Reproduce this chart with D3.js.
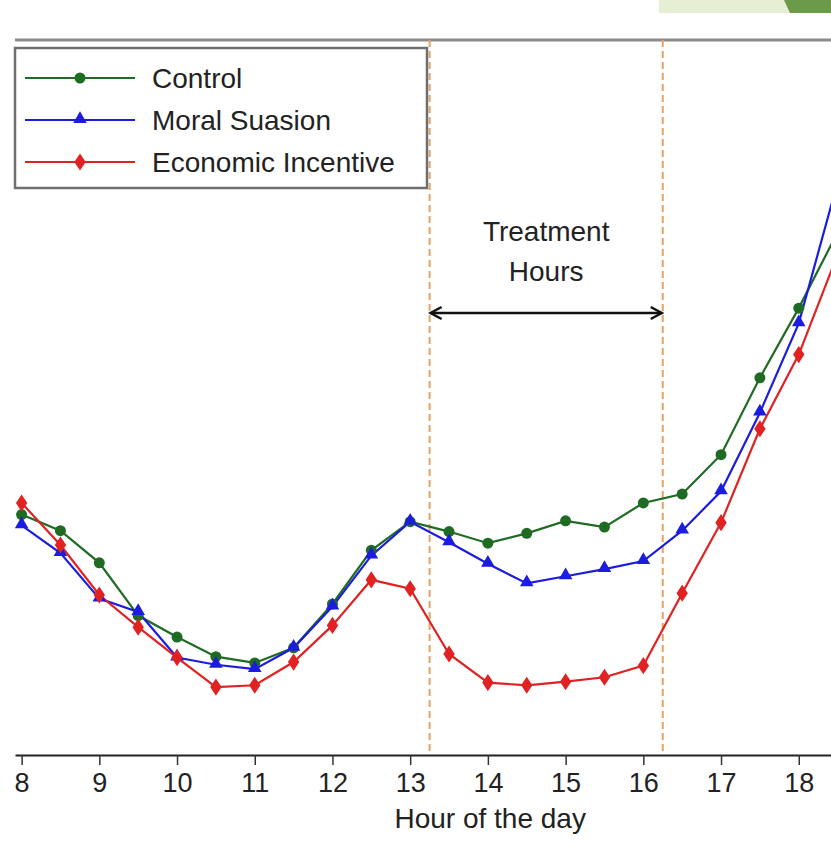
<!DOCTYPE html>
<html>
<head>
<meta charset="utf-8">
<script src="https://cdn.jsdelivr.net/npm/d3@7"></script>
<style>
  body { margin: 0; background: #fff; }
  svg { display: block; font-family: "Liberation Sans", Arial, sans-serif; }
</style>
</head>
<body>
<script>
// hours on the x axis (half-hour steps)
const hours = [8, 8.5, 9, 9.5, 10, 10.5, 11, 11.5, 12, 12.5, 13, 13.5, 14, 14.5, 15, 15.5, 16, 16.5, 17, 17.5, 18, 18.5];

// series values
const control = [0.469, 0.451, 0.415, 0.356, 0.332, 0.310, 0.303, 0.320, 0.369, 0.429, 0.461, 0.450, 0.437, 0.448, 0.462, 0.455, 0.482, 0.492, 0.536, 0.622, 0.700, 0.785];
const moralSuasion = [0.457, 0.426, 0.375, 0.360, 0.309, 0.301, 0.296, 0.320, 0.366, 0.423, 0.461, 0.438, 0.414, 0.392, 0.400, 0.408, 0.417, 0.451, 0.495, 0.583, 0.683, 0.841];
const economicIncentive = [0.482, 0.435, 0.379, 0.343, 0.309, 0.276, 0.278, 0.304, 0.345, 0.396, 0.386, 0.313, 0.281, 0.278, 0.282, 0.287, 0.300, 0.381, 0.460, 0.565, 0.648, 0.760];

const seriesNames = ['Control', 'Moral Suasion', 'Economic Incentive'];
const tickHours = [8, 9, 10, 11, 12, 13, 14, 15, 16, 17, 18];
const treatmentBounds = [13.25, 16.25];
const treatmentLabel = ['Treatment', 'Hours'];
const xTitle = 'Hour of the day';

function drawMarker(g, type, cx, cy, color) {
    if (type === 'circle') {
        g.append('circle')
            .attr('cx', cx).attr('cy', cy).attr('r', 5.5)
            .attr('fill', color);
    } else {
        const sym = type === 'triangle' ? d3.symbolTriangle : d3.symbolDiamond;
        const size = type === 'triangle' ? 80 : 85;
        g.append('path')
            .attr('d', d3.symbol().type(sym).size(size)())
            .attr('transform', type === 'diamond'
                ? `translate(${cx},${cy}) scale(1.15,1)`
                : `translate(${cx},${cy - 1})`)
            .attr('fill', color);
    }
}

function renderSVG() {
    // ==================================================
    // 1. 기본 설정
    // ==================================================
    const width = 831;
    const height = 867;
    const plot = { left: 15, right: 831, top: 40, bottom: 755 };
    const fontSize = 28;

    const svg = d3.select('body')
        .append('svg')
        .attr('width', width)
        .attr('height', height);

    // ==================================================
    // 2. 스케일
    // ==================================================
    const x = d3.scaleLinear()
        .domain([7.915, 18.415])
        .range([plot.left, plot.right]);

    const y = d3.scaleLinear()
        .domain([0.2, 1.0])
        .range([plot.bottom, plot.top]);

    svg.append('defs').append('clipPath')
        .attr('id', 'plot-clip')
        .append('rect')
        .attr('x', plot.left - 8)
        .attr('y', plot.top)
        .attr('width', plot.right - plot.left + 8)
        .attr('height', plot.bottom - plot.top);

    // 상단 장식 (잘린 배너)
    svg.append('rect')
        .attr('x', 659).attr('y', 0)
        .attr('width', 131).attr('height', 13)
        .attr('fill', '#e4efd4');
    svg.append('path')
        .attr('d', 'M784,0 L831,0 L831,13 L790,13 Z')
        .attr('fill', '#6c9a4b');

    // ==================================================
    // 3. 프레임 / 축
    // ==================================================
    svg.append('line')
        .attr('x1', plot.left).attr('x2', plot.right)
        .attr('y1', plot.top).attr('y2', plot.top)
        .attr('stroke', '#8a8a8a')
        .attr('stroke-width', 3);

    // 처리 시간 점선
    svg.selectAll('line.treat')
        .data(treatmentBounds)
        .enter()
        .append('line')
        .attr('class', 'treat')
        .attr('x1', d => x(d)).attr('x2', d => x(d))
        .attr('y1', plot.top).attr('y2', plot.bottom)
        .attr('stroke', '#e2a466')
        .attr('stroke-width', 2)
        .attr('stroke-dasharray', '7,4');

    const xAxis = d3.axisBottom(x)
        .tickValues(tickHours)
        .tickSizeInner(10)
        .tickSizeOuter(0)
        .tickPadding(8)
        .tickFormat(d3.format('d'));

    const axisG = svg.append('g')
        .attr('transform', `translate(0, ${plot.bottom})`)
        .call(xAxis);
    axisG.select('.domain')
        .attr('stroke', '#222')
        .attr('stroke-width', 2);
    axisG.selectAll('.tick line')
        .attr('stroke', '#333')
        .attr('stroke-width', 1.5);
    axisG.selectAll('.tick text')
        .attr('font-size', 27)
        .attr('font-family', '"Liberation Sans", Arial, sans-serif')
        .attr('fill', '#222');

    svg.append('text')
        .attr('x', x(14.03))
        .attr('y', 828)
        .attr('text-anchor', 'middle')
        .attr('font-size', fontSize)
        .attr('fill', '#222')
        .text(xTitle);

    // ==================================================
    // 4. 시리즈
    // ==================================================
    const series = [
        { name: seriesNames[0], values: control, color: '#1f6b24', marker: 'circle' },
        { name: seriesNames[1], values: moralSuasion, color: '#1c1ce0', marker: 'triangle' },
        { name: seriesNames[2], values: economicIncentive, color: '#e02222', marker: 'diamond' }
    ];

    const line = d3.line()
        .x((d, i) => x(hours[i]))
        .y(d => y(d));

    const plotG = svg.append('g').attr('clip-path', 'url(#plot-clip)');

    series.forEach(s => {
        plotG.append('path')
            .datum(s.values)
            .attr('d', line)
            .attr('fill', 'none')
            .attr('stroke', s.color)
            .attr('stroke-width', 2.2);
    });
    series.forEach(s => {
        const mg = plotG.append('g');
        s.values.forEach((v, i) => drawMarker(mg, s.marker, x(hours[i]), y(v), s.color));
    });

    // ==================================================
    // 5. 처리 시간 주석
    // ==================================================
    const midX = (x(treatmentBounds[0]) + x(treatmentBounds[1])) / 2;
    svg.selectAll('text.treat-label')
        .data(treatmentLabel)
        .enter()
        .append('text')
        .attr('class', 'treat-label')
        .attr('x', midX)
        .attr('y', (d, i) => 241 + i * 40)
        .attr('text-anchor', 'middle')
        .attr('font-size', fontSize)
        .attr('fill', '#222')
        .text(d => d);

    const ax1 = x(treatmentBounds[0]) + 1;
    const ax2 = x(treatmentBounds[1]) - 1;
    const ay = 313;
    svg.append('line')
        .attr('x1', ax1).attr('x2', ax2)
        .attr('y1', ay).attr('y2', ay)
        .attr('stroke', '#111').attr('stroke-width', 2.5);
    svg.append('path')
        .attr('d', `M${ax1 + 11},${ay - 6} L${ax1},${ay} L${ax1 + 11},${ay + 6}`
            + ` M${ax2 - 11},${ay - 6} L${ax2},${ay} L${ax2 - 11},${ay + 6}`)
        .attr('fill', 'none')
        .attr('stroke', '#111').attr('stroke-width', 2.5);

    // ==================================================
    // 6. 범례
    // ==================================================
    const legend = svg.append('g');
    legend.append('rect')
        .attr('x', 15).attr('y', 48)
        .attr('width', 412).attr('height', 140)
        .attr('fill', '#fff')
        .attr('stroke', '#6f6f6f')
        .attr('stroke-width', 2.5);

    series.forEach((s, i) => {
        const ly = 78 + i * 42;
        legend.append('line')
            .attr('x1', 25).attr('x2', 135)
            .attr('y1', ly).attr('y2', ly)
            .attr('stroke', s.color).attr('stroke-width', 2);
        drawMarker(legend, s.marker, 80, ly, s.color);
        legend.append('text')
            .attr('x', 152)
            .attr('y', ly + 10)
            .attr('font-size', fontSize)
            .attr('fill', '#222')
            .text(s.name);
    });
}

window.addEventListener('load', function() {
    requestAnimationFrame(renderSVG);
});
</script>
</body>
</html>
